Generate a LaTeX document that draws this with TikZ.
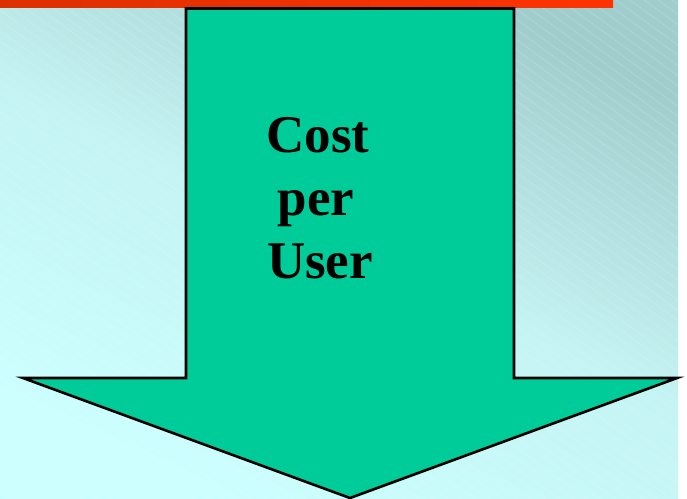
\documentclass[tikz,border=0pt]{standalone}
\usepackage{fontspec}
\setmainfont{Liberation Serif}
\definecolor{arrowgreen}{HTML}{00CC99}
\definecolor{bgdark}{HTML}{A2CDCD}
\definecolor{bgmid}{HTML}{C4F4F3}
\definecolor{bglight}{HTML}{CCFFFF}
\definecolor{barleft}{HTML}{DD3000}
\definecolor{barright}{HTML}{FF3300}
\tikzset{
  bigarrow/.style={fill=arrowgreen, draw=black, line width=2.6pt, line join=miter},
  label/.style={font=\bfseries\fontsize{53}{63}\selectfont, inner sep=0pt, anchor=base},
  stripe/.style={white, opacity=0.15, line width=0.8pt}
}
\begin{document}
\begin{tikzpicture}[x=1pt,y=-1pt]
\useasboundingbox (0,0) rectangle (687,498);
\fill[white] (0,0) rectangle (687,498);
% background
\shade[shading=axis, top color=bgdark, bottom color=bglight, middle color=bgmid, shading angle=-25]
  (0,0) rectangle (678,498);
\begin{scope}
\clip (0,0) rectangle (678,498);
\foreach \i in {-700,-686,...,700} {
  \draw[stripe] (\i,0) -- ++(700,510);
}
\end{scope}
% top bar
\shade[left color=barleft, right color=barright] (0,0) rectangle (613,7.5);
% arrow
\draw[bigarrow] (186,8.5) -- (514,8.5) -- (514,378) -- (677,378) -- (350,498)
  -- (23,378) -- (186,378) -- cycle;
% text
\node[label] (l1) at (318,152) {Cost};
\node[label] (l2) at (316,215) {per};
\node[label] (l3) at (320,278) {User};
\end{tikzpicture}
\end{document}
